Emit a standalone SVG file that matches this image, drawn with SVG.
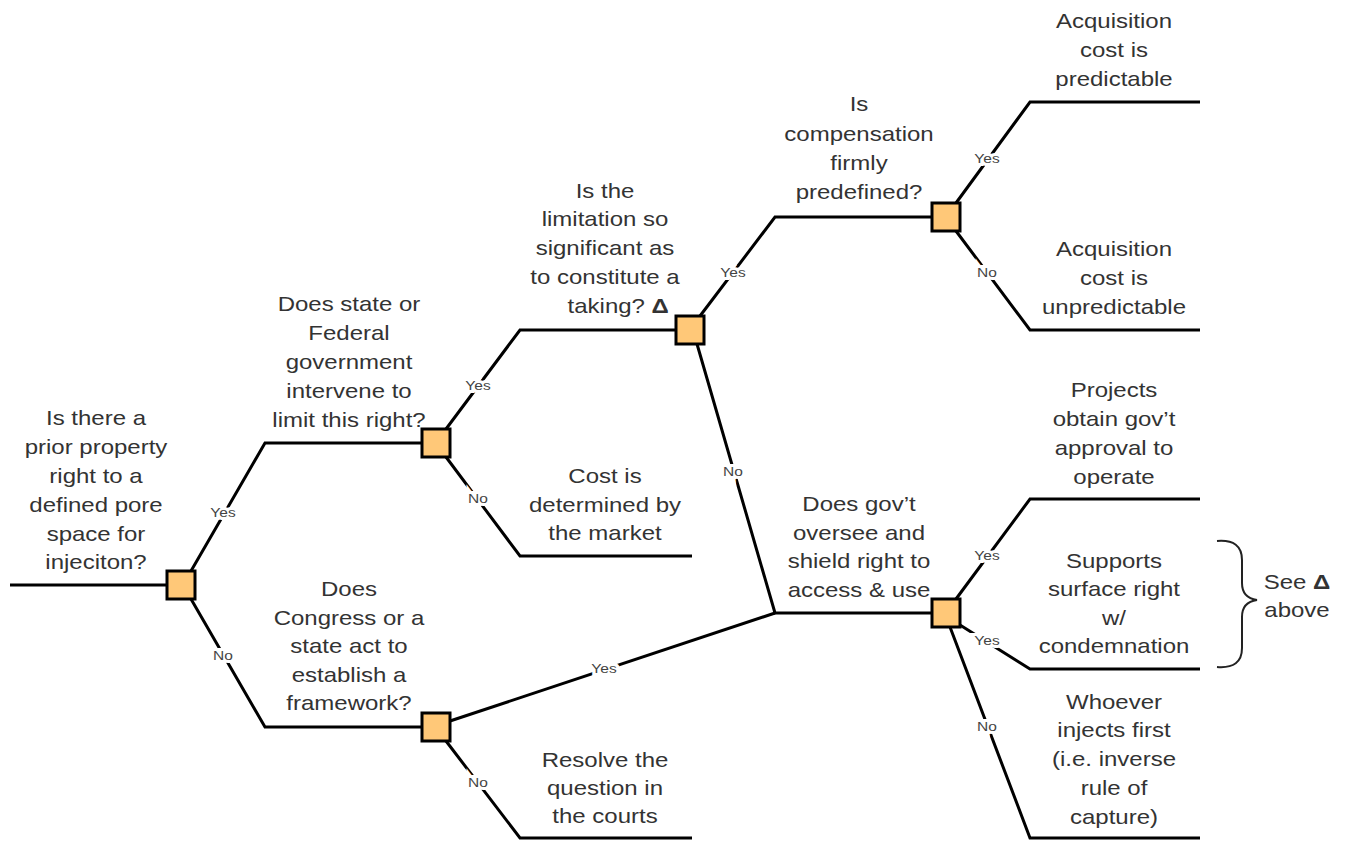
<svg xmlns="http://www.w3.org/2000/svg" width="1346" height="842" viewBox="0 0 1346 842">
  <style>
    .edge { fill: none; stroke: #000; stroke-width: 3; stroke-linejoin: miter; }
    .box { fill: #FFC878; stroke: #000; stroke-width: 3; }
    .txt { font-family: "Liberation Sans", Arial, sans-serif; font-size: 20px; fill: #333; text-anchor: middle; }
    .lbl { font-family: "Liberation Sans", Arial, sans-serif; font-size: 13.5px; fill: #444; text-anchor: middle; stroke: #fff; stroke-width: 6; paint-order: stroke; }
    .delta { font-weight: bold; }
    .brace { fill: none; stroke: #222; stroke-width: 2; }
  </style>
  <rect width="1346" height="842" fill="#fff"/>

  <!-- connectors -->
  <g id="connectors">
    <path class="edge" d="M10,585 H167"/>
    <path class="edge" d="M191,571 L265,443 H422"/>
    <path class="edge" d="M191,599 L265,727 H422"/>
    <path class="edge" d="M446,429 L520,330 H676"/>
    <path class="edge" d="M446,457 L520,556 H692"/>
    <path class="edge" d="M450,721 L775,613"/>
    <path class="edge" d="M446,741 L520,838 H692"/>
    <path class="edge" d="M700,316 L775,217 H932"/>
    <path class="edge" d="M697,344 L775,613 H932"/>
    <path class="edge" d="M956,203 L1030,102 H1200"/>
    <path class="edge" d="M956,231 L1030,330 H1200"/>
    <path class="edge" d="M956,599 L1030,499 H1200"/>
    <path class="edge" d="M960,625 L1030,669 H1200"/>
    <path class="edge" d="M950,627 L1030,838 H1200"/>

    <text class="lbl" transform="translate(223 517) scale(1.15 1)">Yes</text>
    <text class="lbl" transform="translate(223 660) scale(1.15 1)">No</text>
    <text class="lbl" transform="translate(478 390) scale(1.15 1)">Yes</text>
    <text class="lbl" transform="translate(478 503) scale(1.15 1)">No</text>
    <text class="lbl" transform="translate(604 673) scale(1.15 1)">Yes</text>
    <text class="lbl" transform="translate(478 787) scale(1.15 1)">No</text>
    <text class="lbl" transform="translate(733 277) scale(1.15 1)">Yes</text>
    <text class="lbl" transform="translate(733 476) scale(1.15 1)">No</text>
    <text class="lbl" transform="translate(987 163) scale(1.15 1)">Yes</text>
    <text class="lbl" transform="translate(987 277) scale(1.15 1)">No</text>
    <text class="lbl" transform="translate(987 560) scale(1.15 1)">Yes</text>
    <text class="lbl" transform="translate(987 645) scale(1.15 1)">Yes</text>
    <text class="lbl" transform="translate(987 731) scale(1.15 1)">No</text>
  </g>

  <!-- decision nodes -->
  <g id="q-prior-right">
    <rect class="box" x="167" y="571" width="28" height="28"/>
    <text class="txt" transform="translate(96 0) scale(1.2 1)"><tspan x="0" y="425">Is there a</tspan><tspan x="0" y="454">prior property</tspan><tspan x="0" y="483">right to a</tspan><tspan x="0" y="512">defined pore</tspan><tspan x="0" y="541">space for</tspan><tspan x="0" y="569">injeciton?</tspan></text>
  </g>
  <g id="q-gov-intervene">
    <rect class="box" x="422" y="429" width="28" height="28"/>
    <text class="txt" transform="translate(349 0) scale(1.2 1)"><tspan x="0" y="311">Does state or</tspan><tspan x="0" y="340">Federal</tspan><tspan x="0" y="369">government</tspan><tspan x="0" y="398">intervene to</tspan><tspan x="0" y="427">limit this right?</tspan></text>
  </g>
  <g id="q-framework">
    <rect class="box" x="422" y="713" width="28" height="28"/>
    <text class="txt" transform="translate(349 0) scale(1.2 1)"><tspan x="0" y="596">Does</tspan><tspan x="0" y="625">Congress or a</tspan><tspan x="0" y="653">state act to</tspan><tspan x="0" y="682">establish a</tspan><tspan x="0" y="710">framework?</tspan></text>
  </g>
  <g id="q-taking">
    <rect class="box" x="676" y="316" width="28" height="28"/>
    <text class="txt" transform="translate(605 0) scale(1.2 1)"><tspan x="0" y="198">Is the</tspan><tspan x="0" y="226">limitation so</tspan><tspan x="0" y="255">significant as</tspan><tspan x="0" y="284">to constitute a</tspan><tspan x="11" y="313">taking? <tspan class="delta">Δ</tspan></tspan></text>
  </g>
  <g id="q-compensation">
    <rect class="box" x="932" y="203" width="28" height="28"/>
    <text class="txt" transform="translate(859 0) scale(1.2 1)"><tspan x="0" y="111">Is</tspan><tspan x="0" y="141">compensation</tspan><tspan x="0" y="170">firmly</tspan><tspan x="0" y="199">predefined?</tspan></text>
  </g>
  <g id="q-oversee">
    <rect class="box" x="932" y="599" width="28" height="28"/>
    <text class="txt" transform="translate(859 0) scale(1.2 1)"><tspan x="0" y="511">Does gov’t</tspan><tspan x="0" y="540">oversee and</tspan><tspan x="0" y="568">shield right to</tspan><tspan x="0" y="597">access &amp; use</tspan></text>
  </g>

  <!-- outcomes -->
  <g id="o-predictable">
    <text class="txt" transform="translate(1114 0) scale(1.2 1)"><tspan x="0" y="28">Acquisition</tspan><tspan x="0" y="57">cost is</tspan><tspan x="0" y="86">predictable</tspan></text>
  </g>
  <g id="o-unpredictable">
    <text class="txt" transform="translate(1114 0) scale(1.2 1)"><tspan x="0" y="256">Acquisition</tspan><tspan x="0" y="285">cost is</tspan><tspan x="0" y="314">unpredictable</tspan></text>
  </g>
  <g id="o-market">
    <text class="txt" transform="translate(605 0) scale(1.2 1)"><tspan x="0" y="483">Cost is</tspan><tspan x="0" y="512">determined by</tspan><tspan x="0" y="540">the market</tspan></text>
  </g>
  <g id="o-courts">
    <text class="txt" transform="translate(605 0) scale(1.2 1)"><tspan x="0" y="767">Resolve the</tspan><tspan x="0" y="795">question in</tspan><tspan x="0" y="823">the courts</tspan></text>
  </g>
  <g id="o-approval">
    <text class="txt" transform="translate(1114 0) scale(1.2 1)"><tspan x="0" y="397">Projects</tspan><tspan x="0" y="426">obtain gov’t</tspan><tspan x="0" y="455">approval to</tspan><tspan x="0" y="484">operate</tspan></text>
  </g>
  <g id="o-condemnation">
    <text class="txt" transform="translate(1114 0) scale(1.2 1)"><tspan x="0" y="568">Supports</tspan><tspan x="0" y="596">surface right</tspan><tspan x="0" y="625">w/</tspan><tspan x="0" y="653">condemnation</tspan></text>
  </g>
  <g id="o-inverse-capture">
    <text class="txt" transform="translate(1114 0) scale(1.2 1)"><tspan x="0" y="709">Whoever</tspan><tspan x="0" y="737">injects first</tspan><tspan x="0" y="766">(i.e. inverse</tspan><tspan x="0" y="795">rule of</tspan><tspan x="0" y="824">capture)</tspan></text>
  </g>

  <!-- note brace -->
  <g id="note-see-above">
    <path class="brace" d="M1217,541 Q1242,539 1242,560 V583 Q1242,598 1257,600 Q1242,602 1242,617 V648 Q1242,669 1217,667"/>
    <text class="txt" transform="translate(1297 0) scale(1.2 1)"><tspan x="0" y="589">See <tspan class="delta">Δ</tspan></tspan><tspan x="0" y="617">above</tspan></text>
  </g>
</svg>
